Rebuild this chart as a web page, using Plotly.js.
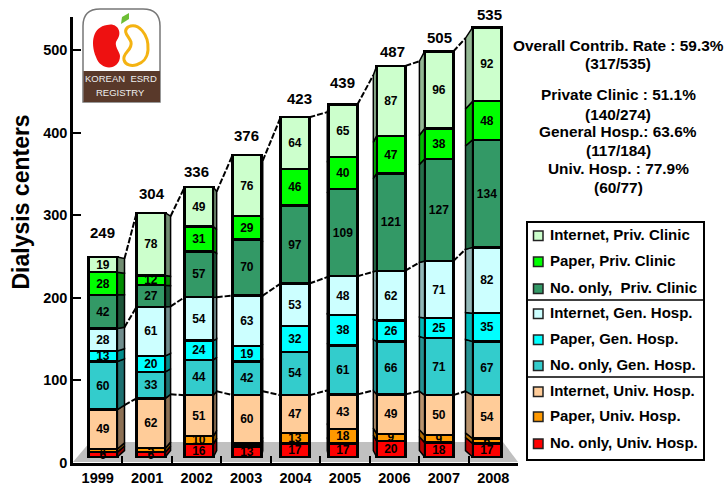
<!DOCTYPE html>
<html><head><meta charset="utf-8">
<script src="https://cdn.plot.ly/plotly-3.0.1.min.js"></script>
<style>html,body{margin:0;padding:0;background:#fff}#c{width:724px;height:485px}</style></head>
<body><div id="c"></div>
<script>
const years = ['1999','2001','2002','2003','2004','2005','2006','2007','2008'];
const noOnlyUniv = [6,6,16,13,17,17,20,18,17];
const paperUniv = [4,5,10,4,13,18,9,9,6];
const internetUniv = [49,62,51,60,47,43,49,50,54];
const noOnlyGen = [60,33,44,42,54,61,66,71,67];
const paperGen = [13,20,24,19,32,38,26,25,35];
const internetGen = [28,61,54,63,53,48,62,71,82];
const noOnlyPriv = [42,27,57,70,97,109,121,127,134];
const paperPriv = [28,12,31,29,46,40,47,38,48];
const internetPriv = [19,78,49,76,64,65,87,96,92];
const totals = [249,304,336,376,423,439,487,505,535];
const seriesNames = ['No. only, Univ. Hosp.','Paper, Univ. Hosp.','Internet, Univ. Hosp.','No. only, Gen. Hosp.','Paper, Gen. Hosp.','Internet, Gen. Hosp.','No. only,  Priv. Clinic','Paper, Priv. Clinic','Internet, Priv. Clinic'];
const seriesValues = [noOnlyUniv,paperUniv,internetUniv,noOnlyGen,paperGen,internetGen,noOnlyPriv,paperPriv,internetPriv];
const seriesColors = ['#FF0000','#FF9900','#FFCC99','#33CCCC','#00FFFF','#CCFFFF','#339966','#00FF00','#CCFFCC'];
const statLines = ['Overall Contrib. Rate : 59.3%','(317/535)','Private Clinic : 51.1%','(140/274)','General Hosp.: 63.6%','(117/184)','Univ. Hosp. : 77.9%','(60/77)'];
const statRows = [45,64,95,114,132,150,168,188];
const totalShiftX = [-1,1,-3,-1,4,-1,2,1,3];
const totalShiftY = [25,19,16,20,19,22,14,14,13];
const legendRows = [442,415,390,364,338,312,287,260,234];

const W=724,H=485, FONT='"Liberation Sans", Arial, sans-serif';
const px=x=>x/W, py=y=>1-y/H;
const P=(pts,close=true)=>pts.map((p,i)=>(i?'L':'M')+px(p[0]).toFixed(5)+','+py(p[1]).toFixed(5)).join(' ')+(close?' Z':'');
const bold=(size,color='#000')=>({family:FONT,size,color,weight:700});

const BW=0.3, T=0.04, VX=4, VY=200;
const far=(x,y)=>[x+T*(VX-x),y+T*(VY-y)];
const shade=(hex,k)=>{const n=parseInt(hex.slice(1),16);return 'rgb('+[n>>16,(n>>8)&255,n&255].map(c=>Math.round(c*k)).join(',')+')';};
const idx=years.map((_,i)=>i);

const cum=[];
seriesValues.forEach((v,s)=>cum.push(v.map((d,i)=>d+(s?cum[s-1][i]:0))));

const traces=[];
// carrier of the category tick labels
traces.push({type:'scatter',mode:'markers',x:years,y:years.map(()=>0),xaxis:'x',yaxis:'y',marker:{opacity:0},hoverinfo:'skip',showlegend:false});

// side faces in perspective
[[i=>i<VX,BW,0.55],[i=>i>VX,-BW,0.72]].forEach(([keep,edge,k])=>{
  seriesValues.forEach((v,s)=>{
    const xs=[],ys=[];
    idx.filter(keep).forEach(i=>{
      const lo=s?cum[s-1][i]:0,hi=cum[s][i],e=i+edge;
      const a=far(e,hi),b=far(e,lo);
      xs.push(e,e,a[0],b[0],e,null);ys.push(lo,hi,a[1],b[1],lo,null);
    });
    traces.push({type:'scatter',mode:'lines',x:xs,y:ys,xaxis:'x2',yaxis:'y2',fill:'toself',fillcolor:shade(seriesColors[s],k),
      line:{color:'#000',width:1.5},hoverinfo:'skip',showlegend:false});
  });
});

// front faces
seriesValues.forEach((v,s)=>{
  traces.push({type:'bar',name:seriesNames[s],x:idx,y:v,xaxis:'x2',yaxis:'y2',width:2*BW,
    marker:{color:seriesColors[s],line:{color:'#000',width:2.3}},
    text:v.map(String),textposition:'inside',insidetextanchor:'middle',constraintext:'none',textangle:0,
    textfont:bold(12),hoverinfo:'skip',showlegend:false});
});

// dashed connectors
[2,5,8].forEach(s=>{
  const xs=[],ys=[];
  for(let i=0;i<idx.length-1;i++){
    const r=i+BW,l=i+1-BW;
    const a=i<VX?far(r,cum[s][i]):[r,cum[s][i]];
    const b=i+1>VX?far(l,cum[s][i+1]):[l,cum[s][i+1]];
    xs.push(a[0],b[0],null);ys.push(a[1],b[1],null);
  }
  traces.push({type:'scatter',mode:'lines',x:xs,y:ys,xaxis:'x2',yaxis:'y2',line:{color:'#000',width:2,dash:'6px,2px'},hoverinfo:'skip',showlegend:false});
});

const shapes=[], annotations=[];
// floor
shapes.push({type:'path',layer:'below',xref:'paper',yref:'paper',path:P([[73,462],[90,442],[503,442],[518,462]]),fillcolor:'#C0C0C0',line:{width:0}});

// totals
totals.forEach((t,i)=>annotations.push({xref:'x2',yref:'y2',x:i,y:t,text:String(t),showarrow:false,xshift:totalShiftX[i],yshift:totalShiftY[i],font:bold(15)}));

// statistics text
statLines.forEach((t,i)=>annotations.push({xref:'paper',yref:'paper',x:px(618),y:py(statRows[i]),text:t,showarrow:false,xanchor:'center',yanchor:'middle',font:bold(15.4)}));

// y title
annotations.push({xref:'paper',yref:'paper',x:px(20),y:py(202.5),text:'Dialysis centers',textangle:-90,showarrow:false,xanchor:'center',yanchor:'middle',font:bold(23)});

// legend
shapes.push({type:'rect',xref:'paper',yref:'paper',x0:px(527),x1:px(704),y0:py(222),y1:py(460),fillcolor:'#fff',line:{color:'#000',width:2}});
[300,377].forEach(y=>shapes.push({type:'line',xref:'paper',yref:'paper',x0:px(526),x1:px(704),y0:py(y),y1:py(y),line:{color:'#000',width:1.5}}));
seriesNames.forEach((n,s)=>{
  const y=legendRows[s];
  shapes.push({type:'rect',xref:'paper',yref:'paper',x0:px(533.5),x1:px(543),y0:py(y-3),y1:py(y+6.5),fillcolor:seriesColors[s],line:{color:'#222',width:1.5}});
  annotations.push({xref:'paper',yref:'paper',x:px(547.5),y:py(y),text:n,showarrow:false,xanchor:'left',yanchor:'middle',font:bold(15)});
});

// logo
const logoFrame='M'+px(83)+','+py(102)+' L'+px(83)+','+py(26)+' Q'+px(83)+','+py(9)+' '+px(100)+','+py(9)+' L'+px(143)+','+py(9)+' Q'+px(160)+','+py(9)+' '+px(160)+','+py(26)+' L'+px(160)+','+py(102)+' Z';
shapes.push({type:'path',xref:'paper',yref:'paper',path:logoFrame,fillcolor:'#fff',line:{color:'#777',width:1.5}});
shapes.push({type:'rect',xref:'paper',yref:'paper',x0:px(83.5),x1:px(160),y0:py(71),y1:py(102),fillcolor:'#59392A',line:{width:0}});
const q=(ox,a,b,c,d,e,f)=>'C'+px(ox+a)+','+py(b)+' '+px(ox+c)+','+py(d)+' '+px(ox+e)+','+py(f);
const kidney=ox=>'M'+px(ox+14)+','+py(25)+' '+q(ox,24,22,30,32,24,40)+' '+q(ox,20,45,27,52,27,56)+' '+q(ox,27,70,8,72,3,57)+' '+q(ox,-3,42,0,27,14,25)+' Z';
shapes.push({type:'path',xref:'paper',yref:'paper',path:kidney(93),fillcolor:'#EE1111',line:{width:0}});
const kidney2=ox=>'M'+px(ox+6)+','+py(27)+' '+q(ox,16,22,27,34,26,50)+' '+q(ox,25,66,5,70,2,60)+' '+q(ox,0,53,11,50,9,42)+' '+q(ox,7,36,0,32,6,27)+' Z';
shapes.push({type:'path',xref:'paper',yref:'paper',path:kidney2(122),fillcolor:'rgba(0,0,0,0)',line:{color:'#F4B312',width:3}});
shapes.push({type:'path',xref:'paper',yref:'paper',path:P([[121,24],[122,17],[129,13],[129,19]]),fillcolor:'#6DBE35',line:{width:0}});
[['KOREAN  ESRD',79],['REGISTRY',92]].forEach(([t,y])=>annotations.push({xref:'paper',yref:'paper',x:px(121),y:py(y),text:t,showarrow:false,xanchor:'center',yanchor:'middle',font:{family:FONT,size:9.5,color:'#EEE'}}));

const layout={
  width:W,height:H,margin:{l:0,r:0,t:0,b:0},paper_bgcolor:'#fff',plot_bgcolor:'rgba(0,0,0,0)',showlegend:false,
  barmode:'stack',
  xaxis:{domain:[73/W,518/W],type:'category',categoryorder:'array',categoryarray:years,range:[-0.5,8.5],anchor:'y',
    showline:true,linecolor:'#000',linewidth:2.5,showgrid:false,zeroline:false,ticks:'inside',tickson:'boundaries',ticklen:7,tickwidth:2,tickcolor:'#000',tickfont:bold(14.5)},
  yaxis:{domain:[(H-463)/H,(H-17)/H],range:[-0.6,540],anchor:'x',tickvals:[0,100,200,300,400,500],
    showline:true,linecolor:'#000',linewidth:2.5,showgrid:false,zeroline:false,ticks:'inside',ticklen:8,tickwidth:2,tickcolor:'#000',tickfont:bold(14.5)},
  xaxis2:{domain:[73/W,518/W],range:[-0.625,8.646],overlaying:'x',anchor:'y2',visible:false},
  yaxis2:{domain:[(H-463)/H,(H-17)/H],range:[-7.47,547.9],overlaying:'y',anchor:'x2',visible:false},
  shapes,annotations
};
Plotly.newPlot('c',traces,layout,{displayModeBar:false,responsive:false});
</script></body></html>
